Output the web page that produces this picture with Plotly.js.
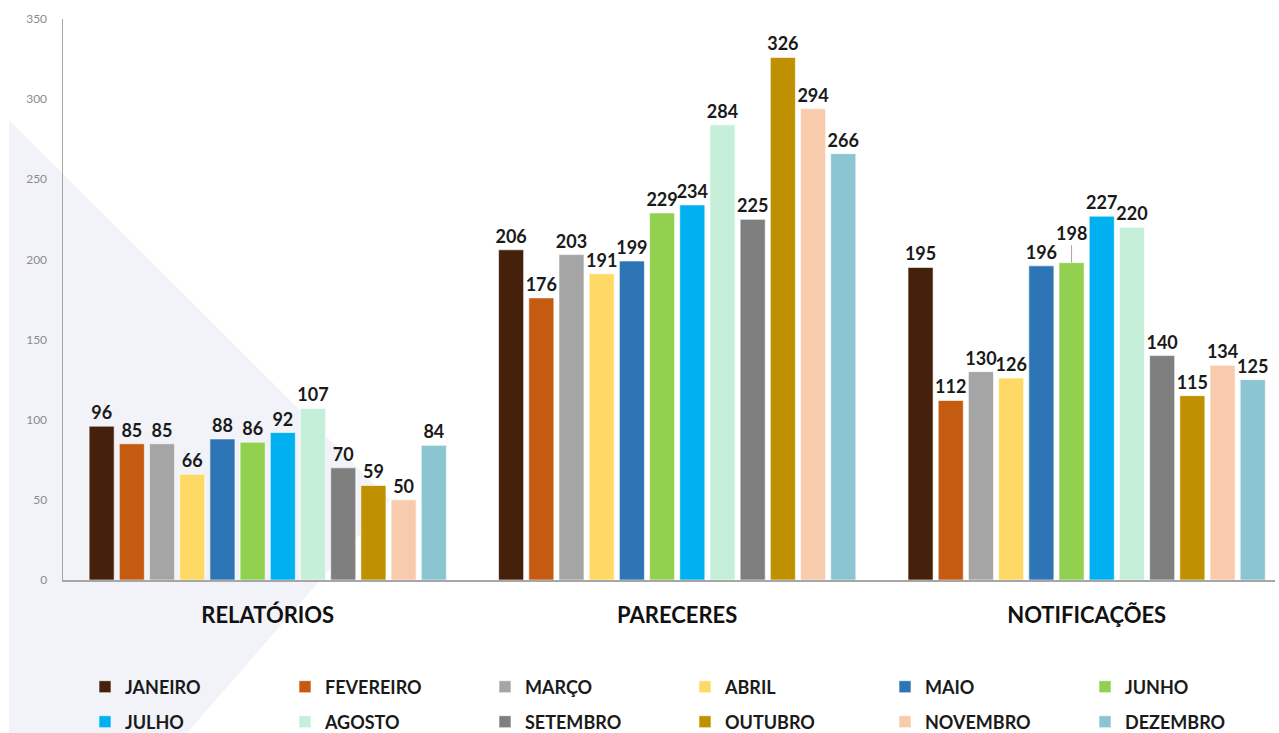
<!DOCTYPE html>
<html>
<head>
<meta charset="utf-8">
<script src="https://cdn.plot.ly/plotly-3.0.1.min.js"></script>
<style>html,body{margin:0;padding:0;background:#fff;}#chart{width:1279px;height:733px;}</style>
</head>
<body>
<div id="chart"></div>
<script>
const categories = ['RELATÓRIOS', 'PARECERES', 'NOTIFICAÇÕES'];
const months = ['JANEIRO','FEVEREIRO','MARÇO','ABRIL','MAIO','JUNHO','JULHO','AGOSTO','SETEMBRO','OUTUBRO','NOVEMBRO','DEZEMBRO'];
const relatorios   = [96, 85, 85, 66, 88, 86, 92, 107, 70, 59, 50, 84];
const pareceres    = [206, 176, 203, 191, 199, 229, 234, 284, 225, 326, 294, 266];
const notificacoes = [195, 112, 130, 126, 196, 198, 227, 220, 140, 115, 134, 125];
const colors = ['#45200b','#c55a11','#a5a5a5','#ffd966','#2e75b6','#92d050','#00b0f0','#c6efda','#7f7f7f','#bf9000','#f8cbad','#8bc5d1'];
const yTicks = [0, 50, 100, 150, 200, 250, 300, 350];

// the one label drawn with a leader line in the reference (NOTIFICAÇÕES / JUNHO)
const calloutMonth = 5, calloutCat = 2;

const FONT = 'Lato, "Open Sans", sans-serif';
const LABEL_FONT = {family: FONT, size: 18, color: '#1a1a1a', weight: 'bold'};

const traces = months.map((m, i) => {
  const vals = [relatorios[i], pareceres[i], notificacoes[i]];
  return {
    type: 'bar',
    name: m,
    x: categories,
    y: vals,
    marker: {color: colors[i], line: {color: 'rgba(255,255,255,0.6)', width: 1}},
    text: vals.map((v, c) => (i === calloutMonth && c === calloutCat) ? '' : String(v)),
    textposition: 'outside',
    constraintext: 'none',
    cliponaxis: false,
    textfont: LABEL_FONT,
    legend: i < 6 ? 'legend' : 'legend2',
    hoverinfo: 'skip'
  };
});

// plot area in pixels
const W = 1279, H = 733;
const L = 63, R = 1275, T = 19, B = 580;
const px = x => (x - L) / (R - L);
const py = y => (B - y) / (B - T);

const tri = `M ${px(9)},${py(120)} L ${px(390)},${py(500)} L ${px(187)},${py(733)} L ${px(9)},${py(733)} Z`;

const BARGAP = 0.115;
const catPx = (R - L) / 2.96;
const slotPx = catPx * (1 - BARGAP) / months.length;

const legendCommon = {
  orientation: 'h', xanchor: 'left', yanchor: 'middle',
  xref: 'container', yref: 'container',
  x: 85 / W, entrywidth: 155, entrywidthmode: 'pixels',
  font: {family: FONT, size: 18, color: '#1a1a1a', weight: 'bold'},
  bgcolor: 'rgba(0,0,0,0)', itemclick: false, itemdoubleclick: false
};

const layout = {
  width: W, height: H,
  margin: {l: L, r: W - R, t: T, b: H - B, autoexpand: false},
  paper_bgcolor: '#ffffff', plot_bgcolor: 'rgba(0,0,0,0)',
  barmode: 'group', bargap: BARGAP, bargroupgap: 0.17,
  font: {family: FONT},
  showlegend: true,
  legend: Object.assign({}, legendCommon, {y: 1 - 687 / H}),
  legend2: Object.assign({}, legendCommon, {y: 1 - 722 / H}),
  xaxis: {
    type: 'category', range: [-0.5, 2.46],
    showline: true, linecolor: '#a6a6a6', linewidth: 1.5,
    showgrid: false, zeroline: false, ticks: '',
    tickfont: {family: FONT, size: 22, color: '#111', weight: 'bold'},
    ticklabelstandoff: 15
  },
  yaxis: {
    range: [0, 350], tickvals: yTicks, ticktext: yTicks.map(String),
    showline: true, linecolor: '#a6a6a6', linewidth: 1.5,
    showgrid: false, zeroline: false, ticks: '',
    tickfont: {family: FONT, size: 12, color: '#8c8c8c'},
    ticklabelstandoff: 12
  },
  annotations: [{
    x: categories[calloutCat], y: [relatorios, pareceres, notificacoes][calloutCat][calloutMonth],
    xref: 'x', yref: 'y',
    xshift: (calloutMonth - (months.length - 1) / 2) * slotPx,
    text: String([relatorios, pareceres, notificacoes][calloutCat][calloutMonth]),
    font: LABEL_FONT,
    showarrow: true, arrowhead: 0, arrowwidth: 1, arrowcolor: '#a6a6a6',
    ax: 0, ay: -30, standoff: 0
  }],
  shapes: [{type: 'path', xref: 'paper', yref: 'paper', path: tri, fillcolor: '#f2f3f8', line: {width: 0}, layer: 'below'}]
};

Plotly.newPlot('chart', traces, layout, {displayModeBar: false, staticPlot: true});
</script>
</body>
</html>
